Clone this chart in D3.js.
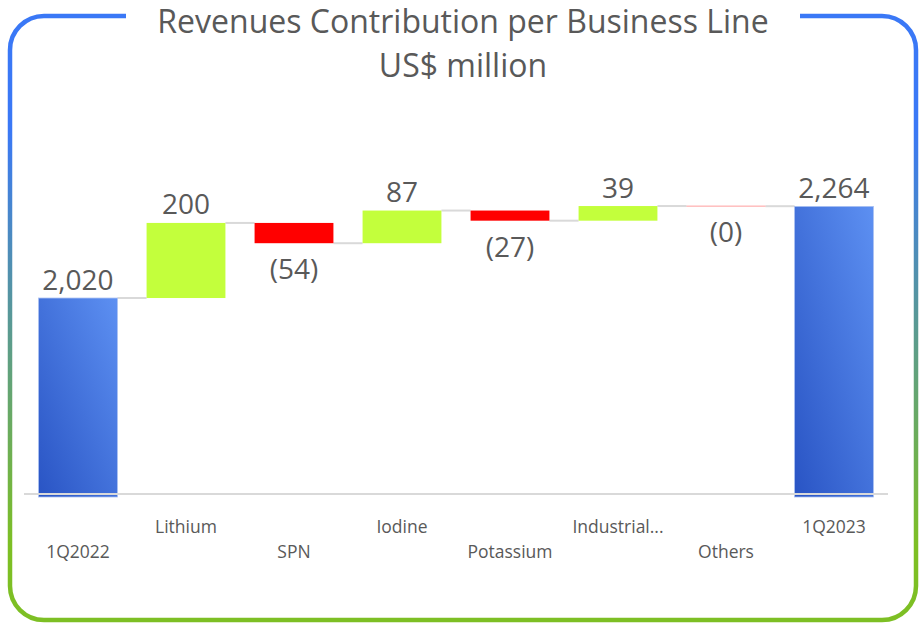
<!DOCTYPE html>
<html>
<head>
<meta charset="utf-8">
<script src="https://cdn.jsdelivr.net/npm/d3@7"></script>
<style>
  body { margin: 0; background: #fff; }
  svg { display: block; }
</style>
</head>
<body>
<svg id="chart"></svg>
<script>
// Data
const categories = ["1Q2022", "Lithium", "SPN", "Iodine", "Potassium", "Industrial...", "Others", "1Q2023"];
const values = [2020, 200, -54, 87, -27, 39, -0.4, 2264];
const isTotal = [true, false, false, false, false, false, false, true];
const titleLines = ["Revenues Contribution per Business Line", "US$ million"];

const svgWidth = 920;
const svgHeight = 623;
const textColor = '#595959';

const svg = d3.select('#chart')
    .attr('width', svgWidth)
    .attr('height', svgHeight);

const defs = svg.append('defs');

// border gradient blue -> green
const borderGrad = defs.append('linearGradient')
    .attr('id', 'borderGrad')
    .attr('gradientUnits', 'userSpaceOnUse')
    .attr('x1', 0).attr('y1', 130)
    .attr('x2', 0).attr('y2', 545);
borderGrad.append('stop').attr('offset', 0).attr('stop-color', '#3a78f6');
borderGrad.append('stop').attr('offset', 1).attr('stop-color', '#7dbf24');

// bar gradient for totals
const barGrad = defs.append('linearGradient')
    .attr('id', 'barGrad')
    .attr('x1', 1).attr('y1', 0)
    .attr('x2', 0).attr('y2', 1);
barGrad.append('stop').attr('offset', 0).attr('stop-color', '#5d90f2');
barGrad.append('stop').attr('offset', 1).attr('stop-color', '#2954c4');

//Frame with a gap for the title
const fx0 = 10, fx1 = 916, fy0 = 16, fy1 = 620, r = 34, gapL = 126, gapR = 800;
const frame = d3.path();
frame.moveTo(gapL, fy0);
frame.lineTo(fx0 + r, fy0);
frame.arcTo(fx0, fy0, fx0, fy0 + r, r);
frame.lineTo(fx0, fy1 - r);
frame.arcTo(fx0, fy1, fx0 + r, fy1, r);
frame.lineTo(fx1 - r, fy1);
frame.arcTo(fx1, fy1, fx1, fy1 - r, r);
frame.lineTo(fx1, fy0 + r);
frame.arcTo(fx1, fy0, fx1 - r, fy0, r);
frame.lineTo(gapR, fy0);

svg.append('path')
    .attr('d', frame.toString())
    .attr('fill', 'none')
    .attr('stroke', 'url(#borderGrad)')
    .attr('stroke-width', 4.5);

//Title
svg.selectAll('.title')
    .data(titleLines)
    .enter().append('text')
    .attr('class', 'title')
    .attr('x', 463)
    .attr('y', (d, i) => 33 + i * 44)
    .attr('text-anchor', 'middle')
    .style('font-family', '"Open Sans", "Noto Sans", sans-serif')
    .style('font-size', '32px')
    .style('fill', textColor)
    .text(d => d);

//Scales
const x = d3.scaleBand()
    .domain(categories)
    .range([24, 888])
    .paddingInner(0.27)
    .paddingOuter(0.135);

const y = d3.scaleLinear()
    .domain([1490, 2300])
    .range([497, 192.9]);

//Waterfall steps
const steps = [];
let running = 0;
categories.forEach((c, i) => {
    let start, end;
    if (isTotal[i]) {
        start = y.domain()[0];
        end = values[i];
        running = values[i];
    } else {
        start = running;
        end = running + values[i];
        running = end;
    }
    steps.push({ cat: c, value: values[i], total: isTotal[i], start: start, end: end, i: i });
});

const fmt = d3.format(',.0f');
const label = v => v < 0 ? '(' + fmt(-v) + ')' : fmt(v);

//Connectors
svg.selectAll('.connector')
    .data(steps.slice(0, -1))
    .enter().append('line')
    .attr('class', 'connector')
    .attr('x1', d => x(d.cat) + x.bandwidth())
    .attr('x2', d => x(categories[d.i + 1]))
    .attr('y1', d => y(d.end))
    .attr('y2', d => y(d.end))
    .attr('stroke', '#d9d9d9')
    .attr('stroke-width', 2);

//Bars
svg.selectAll('.bar')
    .data(steps)
    .enter().append('rect')
    .attr('class', 'bar')
    .attr('x', d => x(d.cat))
    .attr('width', x.bandwidth())
    .attr('y', d => y(Math.max(d.start, d.end)))
    .attr('height', d => Math.abs(y(d.start) - y(d.end)))
    .attr('fill', d => d.total ? 'url(#barGrad)' : (d.value < 0 ? '#ff0000' : '#c3ff3c'))
    .attr('stroke', d => d.total ? '#a9c0f2' : 'none')
    .attr('stroke-width', 0.8);

// zero-height bar shows as a faint line
svg.selectAll('.zero')
    .data(steps.filter(d => !d.total && Math.abs(y(d.start) - y(d.end)) < 1))
    .enter().append('line')
    .attr('class', 'zero')
    .attr('x1', d => x(d.cat))
    .attr('x2', d => x(d.cat) + x.bandwidth())
    .attr('y1', d => y(d.start))
    .attr('y2', d => y(d.start))
    .attr('stroke', '#ffb8b8')
    .attr('stroke-width', 1.2);

//Baseline
svg.append('line')
    .attr('x1', 24)
    .attr('x2', 888)
    .attr('y1', 494)
    .attr('y2', 494)
    .attr('stroke', '#d9d9d9')
    .attr('stroke-width', 2);

//Value labels
svg.selectAll('.value-label')
    .data(steps)
    .enter().append('text')
    .attr('class', 'value-label')
    .attr('x', d => x(d.cat) + x.bandwidth() / 2)
    .attr('y', d => d.value < 0 ? y(d.end) + 36 : y(d.end) - 8.5)
    .attr('text-anchor', 'middle')
    .style('font-family', '"Open Sans", "Noto Sans", sans-serif')
    .style('font-size', '28px')
    .style('fill', textColor)
    .text(d => label(d.value));

//Category labels, staggered on two rows
svg.selectAll('.cat-label')
    .data(categories)
    .enter().append('text')
    .attr('class', 'cat-label')
    .attr('x', d => x(d) + x.bandwidth() / 2)
    .attr('y', (d, i) => i % 2 === 1 ? 533 : 558)
    .attr('text-anchor', 'middle')
    .style('font-family', '"Open Sans", "Noto Sans", sans-serif')
    .style('font-size', '17.5px')
    .style('fill', textColor)
    .text(d => d);
</script>
</body>
</html>
